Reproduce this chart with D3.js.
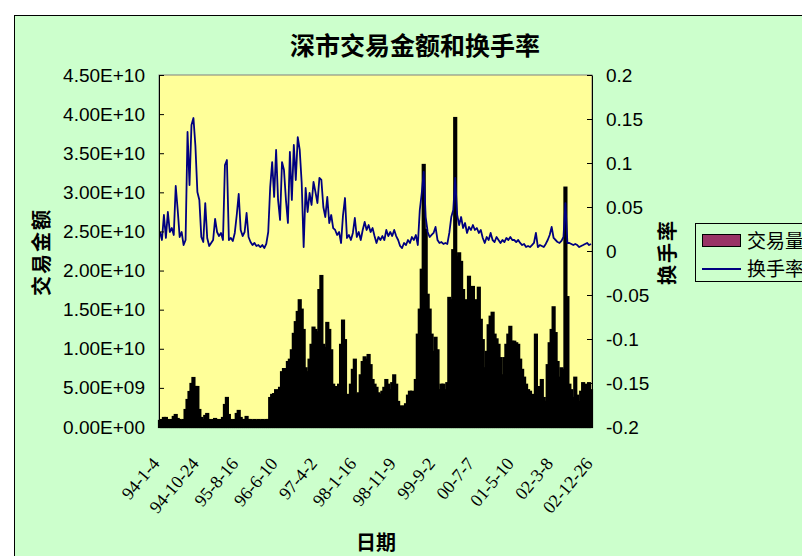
<!DOCTYPE html>
<html>
<head>
<meta charset="utf-8">
<script src="https://cdn.jsdelivr.net/npm/d3@7/dist/d3.min.js"></script>
<style>
  html, body { margin: 0; padding: 0; background: #fff; }
  svg { display: block; }
</style>
</head>
<body>
<svg id="chart" width="802" height="556"></svg>
<script>
// Shenzhen market: daily turnover value (unit: 100 million yuan) and turnover rate,
// resampled to one value per ~10 trading days, 1994-01 .. 2003-01.
const volume = [
  7.7, 8.9, 11.5, 11.5, 8.9, 7.7, 8.9, 12.8, 15.3, 10.2,
  8.9, 7.7, 8.9, 21.7, 34.5, 44.7, 55.0, 62.6, 51.1, 51.1,
  21.7, 11.5, 8.9, 14.1, 16.6, 8.9, 7.7, 8.9, 10.2, 8.9,
  7.7, 8.9, 11.5, 28.1, 37.1, 15.3, 8.9, 7.7, 8.9, 16.6,
  20.5, 11.5, 8.9, 8.9, 12.8, 8.9, 8.9, 7.7, 8.9, 7.7,
  8.9, 7.7, 8.9, 7.7, 8.9, 8.9, 37, 41, 42, 47,
  43, 50, 70, 74, 47, 83, 86, 98, 119, 134,
  147, 162, 150, 124, 75, 70, 86, 105, 127, 124,
  121, 175, 193, 105, 101, 133, 124, 98, 54, 51,
  50, 54, 105, 136, 111, 37, 41, 54, 73, 86,
  41, 43, 66, 83, 89, 86, 92, 79, 60, 54,
  50, 43, 41, 45, 50, 60, 54, 47, 56, 66,
  54, 32, 26, 26, 26, 29, 40, 45, 45, 43,
  60, 118, 150, 201, 335, 252, 169, 150, 118, 96,
  114, 98, 47, 54, 54, 47, 56, 165, 162, 226,
  395, 217, 222, 211, 175, 162, 146, 192, 162, 179,
  143, 162, 178, 137, 111, 75, 96, 130, 141, 146,
  118, 112, 105, 88, 66, 88, 105, 118, 128, 109,
  109, 107, 105, 86, 73, 63, 54, 47, 45, 40,
  41, 118, 37, 51, 60, 37, 32, 79, 107, 124,
  153, 120, 83, 63, 75, 73, 306, 166, 54, 47,
  37, 63, 40, 32, 45, 56, 41, 54, 56, 47
];

const turnover = [
  0.0216, 0.0125, 0.0409, 0.0148, 0.0443, 0.0216, 0.0261, 0.0182, 0.0739, 0.0466,
  0.0159, 0.0216, 0.0068, 0.0125, 0.1352, 0.0750, 0.1432, 0.1511, 0.1193, 0.0670,
  0.0580, 0.0159, 0.0102, 0.0545, 0.0148, 0.0057, 0.0091, 0.0125, 0.0364, 0.0216,
  0.0170, 0.0205, 0.0125, 0.0977, 0.1034, 0.0125, 0.0148, 0.0114, 0.0205, 0.0409,
  0.0648, 0.0239, 0.0170, 0.0216, 0.0432, 0.0159, 0.0102, 0.0068, 0.0091, 0.0057,
  0.0068, 0.0045, 0.0068, 0.0034, 0.0080, 0.0216, 0.0727, 0.1011, 0.0614, 0.1148,
  0.0580, 0.0352, 0.1011, 0.0920, 0.0580, 0.0318, 0.1125, 0.0580, 0.1205, 0.0807,
  0.1295, 0.1148, 0.0773, 0.0045, 0.0716, 0.0443, 0.0659, 0.0523, 0.0784, 0.0670,
  0.0545, 0.0830, 0.0807, 0.0500, 0.0386, 0.0614, 0.0318, 0.0409, 0.0261, 0.0239,
  0.0182, 0.0216, 0.0091, 0.0409, 0.0602, 0.0148, 0.0182, 0.0125, 0.0205, 0.0375,
  0.0159, 0.0216, 0.0125, 0.0239, 0.0330, 0.0239, 0.0295, 0.0216, 0.0261, 0.0170,
  0.0091, 0.0159, 0.0125, 0.0170, 0.0125, 0.0239, 0.0170, 0.0216, 0.0170, 0.0239,
  0.0170, 0.0125, 0.0057, 0.0034, 0.0091, 0.0068, 0.0125, 0.0091, 0.0159, 0.0125,
  0.0182, 0.0068, 0.0466, 0.0659, 0.0898, 0.0386, 0.0216, 0.0159, 0.0182, 0.0205,
  0.0273, 0.0125, 0.0091, 0.0102, 0.0080, 0.0091, 0.0080, 0.0205, 0.0386, 0.0466,
  0.0830, 0.0409, 0.0295, 0.0386, 0.0261, 0.0318, 0.0205, 0.0273, 0.0239, 0.0295,
  0.0239, 0.0261, 0.0205, 0.0239, 0.0148, 0.0091, 0.0159, 0.0125, 0.0205, 0.0125,
  0.0102, 0.0159, 0.0125, 0.0091, 0.0125, 0.0102, 0.0148, 0.0125, 0.0159, 0.0125,
  0.0125, 0.0102, 0.0125, 0.0091, 0.0068, 0.0080, 0.0045, 0.0057, 0.0045, 0.0068,
  0.0091, 0.0205, 0.0045, 0.0068, 0.0057, 0.0045, 0.0080, 0.0125, 0.0182, 0.0273,
  0.0148, 0.0125, 0.0102, 0.0091, 0.0114, 0.0159, 0.0545, 0.0091, 0.0091, 0.0080,
  0.0068, 0.0080, 0.0068, 0.0045, 0.0057, 0.0068, 0.0080, 0.0091, 0.0068, 0.0080
];

// Category labels shown every 20 samples along the date axis
const dateLabels = [
  "94-1-4", "94-10-24", "95-8-16", "96-6-10", "97-4-2", "98-1-16",
  "98-11-9", "99-9-2", "00-7-7", "01-5-10", "02-3-8", "02-12-26"
];
const labelStep = 20;

const volumeTicks = d3.range(0, 9.5).map(k => k * 5e9);
const rateTicks = d3.range(-4, 4.5).map(k => k * 0.05);

const seriesNames = ["交易量", "换手率"];

const plot = { left: 159, right: 592, top: 75, bottom: 427 };

const svg = d3.select("#chart");

// chart area
svg.append("rect")
  .attr("x", 14.5).attr("y", 15.5)
  .attr("width", 900).attr("height", 700)
  .attr("fill", "#CCFFCC").attr("stroke", "#000").attr("stroke-width", 1);

// plot area
svg.append("rect")
  .attr("x", plot.left).attr("y", plot.top)
  .attr("width", plot.right - plot.left).attr("height", plot.bottom - plot.top)
  .attr("fill", "#FFFF99").attr("stroke", "#808080").attr("stroke-width", 1);

const n = volume.length;
const x = d3.scaleLinear().domain([0, n]).range([plot.left, plot.right]);
const yVol = d3.scaleLinear().domain([0, 4.5e10]).range([plot.bottom, plot.top]);
const yRate = d3.scaleLinear().domain([-0.2, 0.2]).range([plot.bottom, plot.top]);

// value-axis number formats
function fmtSci(v) {
  const [m, e] = v.toExponential(2).split("e");
  const sign = e[0] === "-" ? "-" : "+";
  const digits = e.replace(/^[+-]/, "").padStart(2, "0");
  return m + "E" + sign + digits;
}
function fmtRate(v) {
  const r = Math.round(v * 100) / 100;
  return r === 0 ? "0" : String(r);
}

// columns: turnover value (thin columns, dark outlines dominate)
const bw = x(1) - x(0);
svg.append("g")
  .selectAll("rect")
  .data(volume)
  .join("rect")
  .attr("x", (d, i) => x(i))
  .attr("width", bw)
  .attr("y", d => yVol(d * 1e8))
  .attr("height", d => yVol(0) - yVol(d * 1e8))
  .attr("fill", "#993366")
  .attr("stroke", "#000")
  .attr("stroke-width", 2.2);

// line: turnover rate
const line = d3.line()
  .x((d, i) => x(i + 0.5))
  .y(d => yRate(d));
svg.append("path")
  .datum(turnover)
  .attr("d", line)
  .attr("fill", "none")
  .attr("stroke", "#000080")
  .attr("stroke-width", 1.8)
  .attr("stroke-linejoin", "round");

// left value axis
const axL = svg.append("g")
  .attr("transform", `translate(${plot.left},0)`)
  .call(d3.axisLeft(yVol).tickValues(volumeTicks).tickFormat(fmtSci)
    .tickSizeInner(-5).tickSizeOuter(0).tickPadding(14));
axL.select(".domain").attr("stroke", "#000");
axL.selectAll(".tick line").attr("stroke", "#000");
axL.selectAll("text")
  .attr("font-family", "'Liberation Sans', Arial, sans-serif")
  .attr("font-size", 19).attr("fill", "#000");

// right value axis
const axR = svg.append("g")
  .attr("transform", `translate(${plot.right},0)`)
  .call(d3.axisRight(yRate).tickValues(rateTicks).tickFormat(fmtRate)
    .tickSizeInner(-5).tickSizeOuter(0).tickPadding(14));
axR.select(".domain").attr("stroke", "#000");
axR.selectAll(".tick line").attr("stroke", "#000");
axR.selectAll("text")
  .attr("font-family", "'Liberation Sans', Arial, sans-serif")
  .attr("font-size", 19).attr("fill", "#000");

// category axis with slanted date labels
const axB = svg.append("g")
  .attr("transform", `translate(0,${plot.bottom})`)
  .call(d3.axisBottom(x)
    .tickValues(dateLabels.map((_, k) => k * labelStep))
    .tickFormat((d, k) => dateLabels[k])
    .tickSize(0).tickPadding(0));
axB.select(".domain").attr("stroke", "#000");
axB.selectAll("text")
  .attr("font-family", "'Liberation Serif', 'Times New Roman', serif")
  .attr("font-size", 18).attr("fill", "#000")
  .attr("text-anchor", "end")
  .attr("dy", null).attr("y", null)
  .attr("transform", "translate(1,37) rotate(-50)");

// titles
const cjk = "'Noto Sans CJK SC', 'Noto Sans', sans-serif";
svg.append("text")
  .attr("x", 415).attr("y", 55)
  .attr("text-anchor", "middle")
  .attr("font-family", cjk).attr("font-size", 25).attr("font-weight", 700)
  .text("深市交易金额和换手率");

svg.append("text")
  .attr("transform", "translate(49,252) rotate(-90)")
  .attr("text-anchor", "middle")
  .attr("font-family", cjk).attr("font-size", 20).attr("font-weight", 700)
  .attr("letter-spacing", 2)
  .text("交易金额");

svg.append("text")
  .attr("transform", "translate(675,252) rotate(-90)")
  .attr("text-anchor", "middle")
  .attr("font-family", cjk).attr("font-size", 20).attr("font-weight", 700)
  .attr("letter-spacing", 2)
  .text("换手率");

svg.append("text")
  .attr("x", 376).attr("y", 550)
  .attr("text-anchor", "middle")
  .attr("font-family", cjk).attr("font-size", 20).attr("font-weight", 700)
  .text("日期");

// legend
const lg = svg.append("g");
lg.append("rect")
  .attr("x", 695.5).attr("y", 223.5).attr("width", 200).attr("height", 58)
  .attr("fill", "#CCFFCC").attr("stroke", "#000");
lg.append("rect")
  .attr("x", 702.5).attr("y", 234.5).attr("width", 38).attr("height", 12)
  .attr("fill", "#993366").attr("stroke", "#000");
lg.append("line")
  .attr("x1", 702).attr("x2", 741).attr("y1", 269).attr("y2", 269)
  .attr("stroke", "#000080").attr("stroke-width", 1.8);
lg.selectAll("text.item")
  .data(seriesNames)
  .join("text")
  .attr("class", "item")
  .attr("x", 747)
  .attr("y", (d, i) => 248 + i * 28)
  .attr("font-family", cjk).attr("font-size", 19).attr("fill", "#000")
  .text(d => d);
</script>
</body>
</html>
